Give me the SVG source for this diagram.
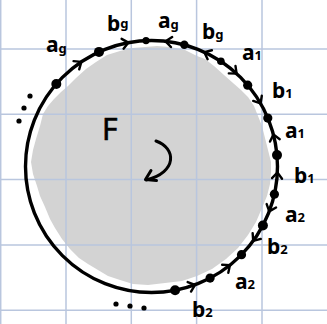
<svg xmlns="http://www.w3.org/2000/svg" xmlns:xlink="http://www.w3.org/1999/xlink" width="327" height="324" viewBox="0 0 327 324">
<style>
.grid{stroke:#b9c6de;stroke-width:1.5;fill:none}
.edge{fill:none;stroke:#000;stroke-width:3.4}
.chev{fill:none;stroke:#000;stroke-width:2.4;stroke-linecap:round;stroke-linejoin:round}
.v{fill:#000}
.lbl{font-family:"Noto Sans","DejaVu Sans",sans-serif;font-weight:bold;font-size:21px;fill:#000}
.sub{font-size:13px}
.dot{fill:#000}
</style>
<defs>
<path id="chev" class="chev" d="M-4.5,-5 L1.5,0 L-4.5,5"/>
</defs>
<rect width="327" height="324" fill="#fff"/>
<g id="face">
<path fill="#d3d3d3" d="M157,46 L170,47 L185,50 L197,56 L205,59 L214,66 L224,75 L233,83 L241,90 L248,97 L254,106 L258,116 L262,126 L265,138 L268,150 L271,162 L271,172 L270,184 L267,196 L262,208 L256,222 L248,235 L238,248 L226,259 L212,269 L197,276 L182,281 L165,283 L148,285 L133,284 L120,280 L108,276 L98,270 L88,264 L79,258 L70,249 L62,239 L55,228 L50,219 L45,207 L40,196 L37,186 L33,174 L31,162 L33,150 L36,139 L40,126 L43,114 L48,106 L54,99 L61,92 L68,86 L76,78 L86,69 L96,62 L107,55 L120,51 L133,48 L145,47 Z"/>
</g>
<g id="grid" class="grid">
<line x1="0.7" y1="0" x2="0.7" y2="324"/>
<line x1="66" y1="0" x2="66" y2="324"/>
<line x1="131.3" y1="0" x2="131.3" y2="324"/>
<line x1="196.6" y1="0" x2="196.6" y2="324"/>
<line x1="262" y1="0" x2="262" y2="324"/>
<line x1="0" y1="49" x2="327" y2="49"/>
<line x1="0" y1="114.3" x2="327" y2="114.3"/>
<line x1="0" y1="179.6" x2="327" y2="179.6"/>
<line x1="0" y1="245" x2="327" y2="245"/>
<line x1="0" y1="310.3" x2="327" y2="310.3"/>
</g>
<g id="connectors">
<circle class="edge" cx="151.5" cy="166.5" r="126"/>
<use xlink:href="#chev" href="#chev" transform="translate(80.1,62.7) rotate(-34.5)"/>
<use xlink:href="#chev" href="#chev" transform="translate(127,42.9) rotate(-11.2)"/>
<use xlink:href="#chev" href="#chev" transform="translate(167.1,41.5) rotate(-172.9)"/>
<use xlink:href="#chev" href="#chev" transform="translate(205.7,52.8) rotate(-154.5)"/>
<use xlink:href="#chev" href="#chev" transform="translate(235.5,72.6) rotate(41.8)"/>
<use xlink:href="#chev" href="#chev" transform="translate(259.8,102.2) rotate(59.3)"/>
<use xlink:href="#chev" href="#chev" transform="translate(273.8,136) rotate(-104)"/>
<use xlink:href="#chev" href="#chev" transform="translate(277.3,174) rotate(-86.6)"/>
<use xlink:href="#chev" href="#chev" transform="translate(269.8,210) rotate(110.2)"/>
<use xlink:href="#chev" href="#chev" transform="translate(254.1,239.7) rotate(125.5)"/>
<use xlink:href="#chev" href="#chev" transform="translate(228.8,266) rotate(-37.8)"/>
<use xlink:href="#chev" href="#chev" transform="translate(193.6,285.3) rotate(-19.5)"/>
</g>
<g id="vertices">
<circle id="v0" class="v" cx="56.3" cy="84" r="5"/>
<circle id="v1" class="v" cx="99" cy="51.9" r="5"/>
<circle id="v2" class="v" cx="146" cy="40.6" r="3.6"/>
<circle id="v3" class="v" cx="184.3" cy="44.8" r="4.2"/>
<circle id="v4" class="v" cx="220.9" cy="61.3" r="3.8"/>
<circle id="v5" class="v" cx="247.7" cy="85.2" r="4.6"/>
<circle id="v6" class="v" cx="267.8" cy="118.1" r="4.6"/>
<circle id="v7" class="v" cx="277" cy="155.1" r="5"/>
<circle id="v8" class="v" cx="274.4" cy="194.2" r="4.6"/>
<circle id="v9" class="v" cx="262.9" cy="225.5" r="5"/>
<circle id="v10" class="v" cx="241.5" cy="254.7" r="4.6"/>
<circle id="v11" class="v" cx="210.1" cy="278.1" r="4.6"/>
<circle id="v12" class="v" cx="175.1" cy="290.3" r="5"/>
</g>
<g id="ellipses">
<circle class="dot" cx="30" cy="96" r="2.6"/>
<circle class="dot" cx="24" cy="108" r="2.6"/>
<circle class="dot" cx="19" cy="121" r="2.6"/>
<circle class="dot" cx="116" cy="304" r="2.6"/>
<circle class="dot" cx="130" cy="306" r="2.6"/>
<circle class="dot" cx="144" cy="308" r="2.6"/>
</g>
<g id="labels" class="lbl">
<text x="46" y="52">a<tspan class="sub" dy="1">g</tspan></text>
<text x="107" y="31">b<tspan class="sub" dy="-3">g</tspan></text>
<text x="158" y="28">a<tspan class="sub" dy="1">g</tspan></text>
<text x="202" y="39">b<tspan class="sub" dy="0">g</tspan></text>
<text x="242" y="60">a<tspan class="sub">1</tspan></text>
<text x="272" y="98">b<tspan class="sub">1</tspan></text>
<text x="285" y="138">a<tspan class="sub">1</tspan></text>
<text x="294" y="183">b<tspan class="sub">1</tspan></text>
<text x="285" y="222">a<tspan class="sub">2</tspan></text>
<text x="267" y="254">b<tspan class="sub">2</tspan></text>
<text x="235" y="289">a<tspan class="sub">2</tspan></text>
<text x="192" y="317">b<tspan class="sub">2</tspan></text>
</g>
<g id="face-label">
<text x="102" y="140" style="font-family:'Noto Sans','DejaVu Sans',sans-serif;font-size:30px;fill:#000;stroke:#000;stroke-width:0.6">F</text>
<path d="M156,141 C176,148 178,172 146,180" fill="none" stroke="#000" stroke-width="3" stroke-linecap="round"/>
<path d="M151,170.5 L145.5,179.5 L156.5,180.5" fill="none" stroke="#000" stroke-width="3" stroke-linecap="round" stroke-linejoin="round"/>
</g>
</svg>
